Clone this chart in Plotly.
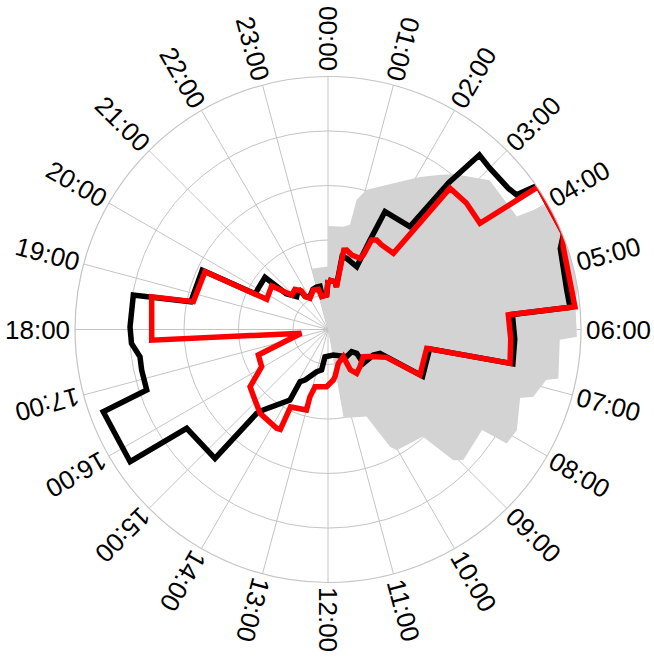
import plotly.graph_objects as go
import math

W, H = 654, 657
CX, CY, R = 328.0, 329.5, 253.0
RMAX = 25.3
GRID_R = [3.5, 8.95, 14.4, 19.85, 25.3]

hours = list(range(24))
hour_labels = [f"{h:02d}:00" for h in hours]

# ---- series (time of day in hours, value) ----
gray_hour = [23.0, 23.0, 0.0, 0.0, 0.57, 0.79, 0.83, 1.03, 2.07, 2.37, 2.6, 3.15, 3.94,
             4.02, 4.7, 5.4, 5.55, 6.11, 6.17, 6.80, 6.87, 7.21, 7.31, 7.87, 8.17, 8.21,
             8.93, 9.08, 9.23, 10.02, 10.14, 10.41, 11.33, 11.33]
gray_val = [0.0, 6.3, 6.3, 10.35, 10.4, 10.7, 13.3, 14.5, 17.8, 19.0, 20.0, 22.0, 22.0,
            25.2, 25.5, 25.3, 24.9, 24.9, 23.2, 23.55, 22.4, 21.6, 20.4, 21.4, 21.2, 18.4,
            18.8, 18.1, 14.3, 13.9, 13.3, 9.5, 9.0, 0.0]

black_hour = [0.01, 0.56, 0.73, 0.73, 0.98, 1.64, 1.68, 1.72, 2.57, 2.63, 2.73, 3.0, 3.46,
              3.63, 3.70, 4.52, 4.72, 5.37, 5.65, 5.69, 6.2, 6.70, 6.72, 7.25, 7.75, 7.64,
              7.96, 8.92, 8.65, 8.87, 9.7, 11.22, 12.42, 12.6, 13.0, 13.63, 13.88, 13.89,
              14.59, 14.69, 14.75, 15.67, 15.75, 16.66, 16.77, 17.18, 17.45, 17.73, 18.05,
              18.67, 18.69, 18.76, 19.68, 19.74, 20.04, 20.64, 20.7, 21.09, 21.6, 21.7,
              22.0, 22.64, 23.0, 23.3, 23.35, 23.85, 0.01]
black_val = [4.95, 4.83, 4.4, 7.4, 7.36, 6.9, 10.0, 13.1, 13.15, 19.0, 23.1, 22.85, 22.9,
             23.17, 25.45, 25.45, 24.6, 24.2, 24.3, 18.5, 18.7, 18.8, 10.35, 10.35, 10.55,
             5.72, 5.2, 4.89, 3.73, 3.24, 3.3, 2.6, 2.74, 4.1, 4.37, 5.55, 5.92, 8.01,
             10.33, 11.0, 17.14, 17.24, 23.8, 23.93, 19.11, 19.07, 19.0, 19.7, 19.8,
             19.77, 18.13, 14.0, 13.9, 8.1, 8.1, 8.18, 5.5, 4.54, 5.0, 4.0,
             3.7, 4.3, 4.4, 4.4, 3.4, 3.45, 4.95]

red_hour = [0.01, 0.56, 0.75, 0.75, 0.88, 1.18, 1.61, 1.69, 1.73, 1.9, 2.16, 2.71, 2.72,
            3.17, 3.67, 3.72, 4.52, 4.7, 5.65, 5.69, 6.2, 6.70, 6.72, 7.25, 7.75, 7.70,
            8.19, 8.51, 9.29, 9.79, 10.07, 10.04, 10.87, 11.44, 11.6, 12.09, 12.85, 13.0,
            13.0, 13.72, 13.7, 13.83, 14.6, 15.07, 15.58, 16.05, 16.66, 17.47, 17.77,
            18.70, 18.78, 19.68, 19.75, 20.51, 20.9, 21.37, 21.7, 21.7, 22.0, 22.64,
            23.1, 23.27, 23.85, 0.01]
red_val = [4.95, 4.83, 4.31, 8.1, 8.17, 7.82, 7.8, 8.24, 9.96, 10.19, 10.01, 10.04, 18.66,
           18.75, 18.54, 25.42, 25.42, 24.94, 24.8, 18.09, 18.3, 18.51, 10.05, 10.06,
           10.26, 6.47, 5.0, 4.46, 4.9, 5.24, 4.61, 3.12, 3.54, 4.77, 5.08, 5.72, 5.86,
           6.95, 8.33, 8.6, 11.07, 11.13, 10.79, 10.15, 9.67, 7.6, 7.42, 2.7, 17.66,
           17.93, 13.75, 13.59, 6.83, 7.11, 5.01, 5.2, 4.69, 4.0, 3.6, 4.21,
           4.14, 3.34, 3.45, 4.95]

fig = go.Figure()
fig.add_trace(go.Scatterpolar(
    theta=[h * 15 for h in gray_hour], r=gray_val, mode="lines", fill="toself",
    fillcolor="#d3d3d3", line=dict(width=0, color="#d3d3d3"), showlegend=False,
    hoverinfo="skip"))
for hh, vv, col in [(black_hour, black_val, "#000000"), (red_hour, red_val, "#ff0000")]:
    fig.add_trace(go.Scatterpolar(theta=[h * 15 for h in hh], r=vv, mode="lines",
                                  line=dict(color=col, width=5.5), showlegend=False,
                                  hoverinfo="skip"))

fig.update_layout(
    width=W, height=H, margin=dict(l=0, r=0, t=0, b=0),
    paper_bgcolor="white", plot_bgcolor="white", showlegend=False,
    polar=dict(
        domain=dict(x=[(CX - R) / W, (CX + R) / W],
                    y=[(H - CY - R) / H, (H - CY + R) / H]),
        bgcolor="white",
        radialaxis=dict(range=[0, RMAX], tickvals=GRID_R, showticklabels=False,
                        ticks="", showline=False, gridcolor="#c4c4c4", gridwidth=1.2,
                        layer="above traces"),
        angularaxis=dict(rotation=90, direction="clockwise", thetaunit="degrees",
                         tickvals=[h * 15 for h in hours], showticklabels=False,
                         ticks="", showline=True, linecolor="#c4c4c4", linewidth=1.2,
                         gridcolor="#c4c4c4", gridwidth=1.2, layer="above traces"),
    ),
)

D = R + 5 + 32.5
for h, lab in zip(hours, hour_labels):
    phi = h * 15 - 90
    ang = phi if 2 <= h <= 17 else phi % 180
    px = CX + D * math.cos(math.radians(phi))
    py = CY + D * math.sin(math.radians(phi))
    fig.add_annotation(x=px / W, y=1 - py / H, xref="paper", yref="paper",
                       text=lab, showarrow=False, textangle=ang,
                       xanchor="center", yanchor="middle",
                       font=dict(family="Liberation Sans, Arial", size=26, color="black"))

fig.write_html("out.html", config={"displayModeBar": False},
               post_script="document.body.style.margin='0';document.body.style.overflow='hidden';")
